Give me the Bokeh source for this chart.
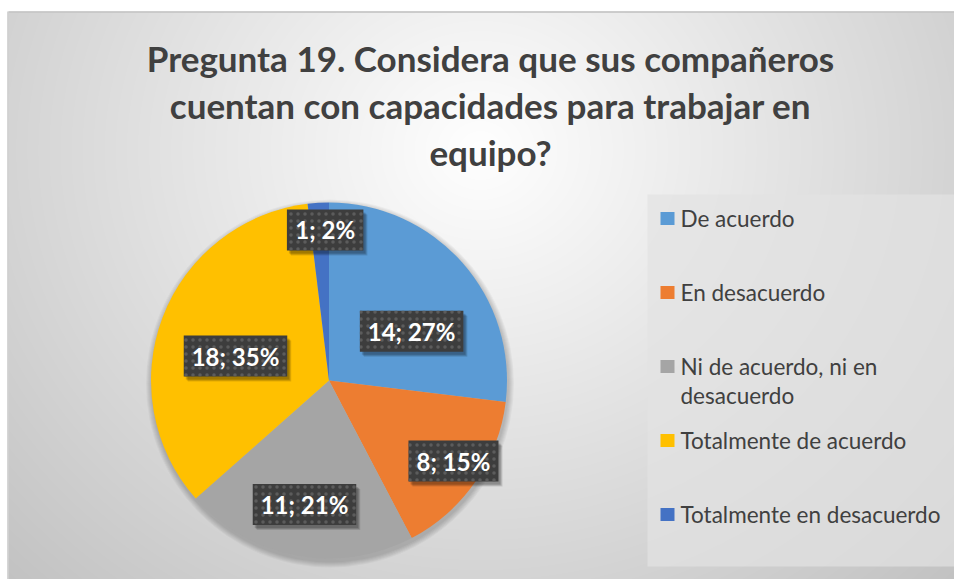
import numpy as np
from bokeh.plotting import figure
from bokeh.models import Range1d, ColumnDataSource
from bokeh.embed import file_html
from bokeh.resources import INLINE
from bokeh.core.properties import value

# ---------------- data ----------------
title_lines = ["Pregunta 19. Considera que sus compañeros",
               "cuentan con capacidades para trabajar en",
               "equipo?"]
categories = ["De acuerdo", "En desacuerdo", "Ni de acuerdo, ni en desacuerdo",
              "Totalmente de acuerdo", "Totalmente en desacuerdo"]
legend_lines = [["De acuerdo"], ["En desacuerdo"], ["Ni de acuerdo, ni en", "desacuerdo"],
                ["Totalmente de acuerdo"], ["Totalmente en desacuerdo"]]
counts = [14, 8, 11, 18, 1]
colors = ["#5B9BD5", "#ED7D31", "#A5A5A5", "#FFC000", "#4472C4"]

# ---------------- layout helpers (screen px -> data) ----------------
W, H = 954, 579
def sx(X):
    return X
def sy(Y):
    return H - Y

FONT = "Lato"
TXT = "#404040"

p = figure(width=W, height=H, x_range=Range1d(0, W), y_range=Range1d(0, H),
           output_backend="svg", toolbar_location=None, min_border=0,
           x_axis_type=None, y_axis_type=None)
p.grid.visible = False
p.outline_line_color = None
p.background_fill_color = "white"
p.border_fill_color = "white"

# background radial gradient (chart area)
top_px, left_px = 12, 8
gh = sy(top_px)
gw = W - left_px
jj, ii = np.mgrid[0:gh, 0:gw]
Xs = ii + 0.5 + left_px
Ys = H - (jj + 0.5)
d = np.sqrt(((Xs - 480) / 520.0) ** 2 + ((Ys - 150) / 470.0) ** 2)
g = np.clip(255 - 47 * d, 190, 255).astype(np.uint8)
img = np.empty((gh, gw), dtype=np.uint32)
view = img.view(dtype=np.uint8).reshape((gh, gw, 4))
view[..., 0] = g
view[..., 1] = g
view[..., 2] = g
view[..., 3] = 255
p.image_rgba(image=[img], x=left_px, y=0, dw=gw, dh=gh)
p.segment(x0=[left_px], y0=[gh + 0.5], x1=[W], y1=[gh + 0.5], line_color="#bdbdbd", line_width=1.5)
p.segment(x0=[left_px - 0.5], y0=[0], x1=[left_px - 0.5], y1=[gh + 1], line_color="#c8c8c8", line_width=1.5)

# title
for k, line in enumerate(title_lines):
    p.text(x=[sx(490)], y=[sy(57 + 47 * k)], text=[line], text_font=value(FONT),
           text_font_style="bold", text_font_size="35px", text_color=TXT,
           text_align="center", text_baseline="middle")

# legend box
p.rect(x=[(sx(647) + W) / 2], y=[(sy(194) + sy(566)) / 2], width=[W - sx(647)],
       height=[sy(194) - sy(566)], fill_color="#e2e2e2", fill_alpha=0.7, line_color=None)

# pie
cx, cy, R = sx(328.5), sy(380), 178
total = float(sum(counts))
cum = np.concatenate([[0], np.cumsum(counts)])
start = np.pi / 2 - 2 * np.pi * cum[:-1] / total
end = np.pi / 2 - 2 * np.pi * cum[1:] / total

for k in range(1, 7):
    p.circle(x=[cx + 1], y=[cy - 3], radius=R + k, fill_color="black", fill_alpha=0.035, line_color=None)

src = ColumnDataSource(dict(cat=categories, start=start, end=end, color=colors))
p.wedge(x=cx, y=cy, radius=R, start_angle="start", end_angle="end", direction="clock",
        fill_color="color", line_color=None, source=src)

# data labels
pct = [int(round(100 * c / total)) for c in counts]
labels = ["%d; %d%%" % (c, q) for c, q in zip(counts, pct)]
lab_frac = [0.54, 0.833, 0.71, 0.543, 0.846]
lab_adj = [10.8, -1.7, 0.8, -6.1, 2.0]
mid = 2 * np.pi * (cum[:-1] + cum[1:]) / 2 / total
ang = mid + np.radians(lab_adj)
lx = cx + np.array(lab_frac) * R * np.sin(ang)
ly = cy + np.array(lab_frac) * R * np.cos(ang)
lw = [13.5 * len(t) + 9 for t in labels]
lh = [41] * len(labels)
for off, a in [((4, -5), 0.12), ((3, -4), 0.15), ((2, -3), 0.15)]:
    p.rect(x=lx + off[0], y=ly + off[1], width=lw, height=lh, fill_color="black",
           fill_alpha=a, line_color=None)
p.rect(x=lx, y=ly, width=lw, height=lh, fill_color="#3d3d3d", line_color=None,
       hatch_pattern="dot", hatch_color="#5c5c5c", hatch_scale=7, hatch_weight=2)
p.text(x=lx, y=ly, text=labels, text_font=value(FONT), text_font_style="bold",
       text_font_size="24px", text_color="white", text_align="center", text_baseline="middle")

# legend items
for k, lines in enumerate(legend_lines):
    Yc = 218 + 74 * k
    p.rect(x=[sx(667)], y=[sy(Yc)], width=[14], height=[13], fill_color=colors[k], line_color=None)
    for m, t in enumerate(lines):
        p.text(x=[sx(680)], y=[sy(Yc + 29 * m)], text=[t], text_font=value(FONT),
               text_font_size="22.5px", text_color=TXT, text_align="left", text_baseline="middle")

open("out.html", "w").write(file_html(p, INLINE))
